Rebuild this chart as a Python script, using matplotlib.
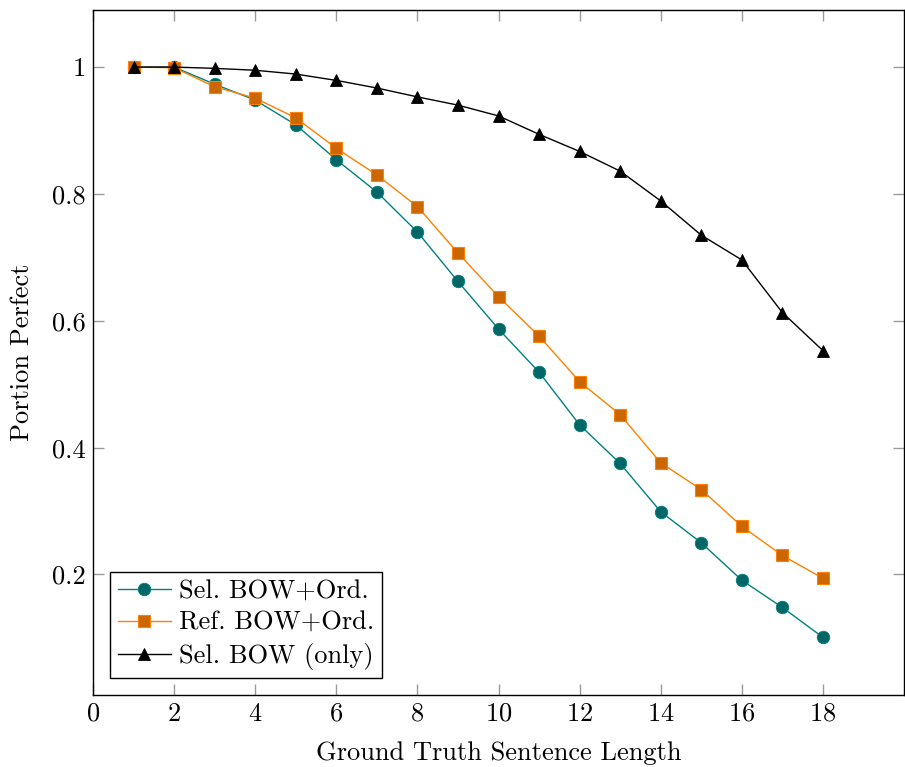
import matplotlib
matplotlib.use("Agg")
import matplotlib.pyplot as plt

plt.rcParams['font.family'] = ['cmr10', 'DejaVu Serif']
plt.rcParams['axes.formatter.use_mathtext'] = True
plt.rcParams['mathtext.fontset'] = 'cm'

lengths = list(range(1, 19))
sel_bow_ord = [1.0, 1.0, 0.973, 0.948, 0.909, 0.854, 0.803, 0.740, 0.662, 0.587,
               0.519, 0.436, 0.375, 0.299, 0.250, 0.191, 0.148, 0.101]
ref_bow_ord = [1.0, 0.999, 0.969, 0.951, 0.920, 0.872, 0.830, 0.780, 0.707, 0.638,
               0.576, 0.504, 0.452, 0.376, 0.334, 0.276, 0.230, 0.194]
sel_bow_only = [1.0, 1.0, 0.998, 0.995, 0.989, 0.979, 0.967, 0.953, 0.940, 0.923,
                0.894, 0.867, 0.836, 0.789, 0.735, 0.696, 0.613, 0.553]
series_labels = ["Sel. BOW+Ord.", "Ref. BOW+Ord.", "Sel. BOW (only)"]
xticks = list(range(0, 19, 2))
yticks = [0.2, 0.4, 0.6, 0.8, 1.0]
ytick_labels = ["0.2", "0.4", "0.6", "0.8", "1"]

fig = plt.figure(figsize=(9.05, 7.67), dpi=100)
ax = fig.add_axes([93/905, 1-695/767, 811/905, 685/767])

teal = (0, 0.5, 0.5)
teal_d = (0, 0.4, 0.4)
orange = (1, 0.5, 0)
orange_d = (0.8, 0.4, 0)

ax.plot(lengths, sel_bow_ord, color=teal, lw=1.0, marker='o', ms=9,
        mfc=teal_d, mec=teal, mew=0.6, label=series_labels[0])
ax.plot(lengths, ref_bow_ord, color=orange, lw=1.0, marker='s', ms=8,
        mfc=orange_d, mec=orange, mew=0.8, label=series_labels[1])
ax.plot(lengths, sel_bow_only, color='black', lw=1.0, marker='^', ms=8,
        mfc='black', mec='black', mew=0.6, label=series_labels[2])

ax.set_xlim(0, 20)
ax.set_ylim(0.01, 1.09)
ax.set_xticks(xticks)
ax.set_yticks(yticks)
ax.set_yticklabels(ytick_labels)
ax.tick_params(direction='in', length=8, width=1, color='#9a9a9a',
               top=True, right=True, labelsize=19, pad=5)
for s in ax.spines.values():
    s.set_linewidth(1.0)
    s.set_color('black')

ax.set_xlabel("Ground Truth Sentence Length", fontsize=19, labelpad=11)
ax.set_ylabel("Portion Perfect", fontsize=19, labelpad=13)

leg = ax.legend(loc='lower left', fontsize=19, frameon=True, fancybox=False,
                edgecolor='black', framealpha=1, borderaxespad=0.65,
                handlelength=2.0, handletextpad=0.3, labelspacing=0.3,
                borderpad=0.3)
leg.get_frame().set_linewidth(1.0)

fig.savefig("out.png", dpi=100)
